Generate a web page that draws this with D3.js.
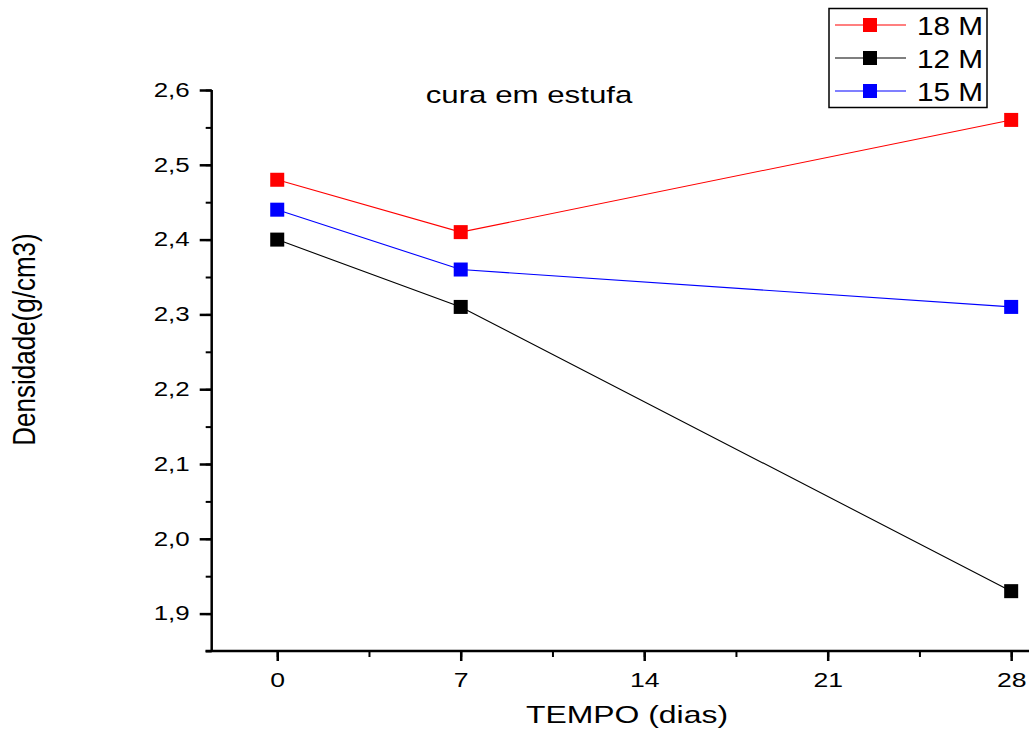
<!DOCTYPE html>
<html>
<head>
<meta charset="utf-8">
<script src="https://cdn.jsdelivr.net/npm/d3@7"></script>
<style>
  body { margin: 0; background: #fff; }
  svg { display: block; font-family: "Liberation Sans", Arial, sans-serif; }
</style>
</head>
<body>
<svg id="chart" width="1029" height="736"></svg>
<script>
// values
const days = [0, 7, 28]
const seriesNames = ['18 M', '12 M', '15 M']
const seriesColors = ['#ff0000', '#000000', '#0000ff']
const dens18 = [2.48, 2.41, 2.56]
const dens12 = [2.40, 2.31, 1.93]
const dens15 = [2.44, 2.36, 2.31]
const xTicks = [0, 7, 14, 21, 28]
const yTicks = [1.9, 2.0, 2.1, 2.2, 2.3, 2.4, 2.5, 2.6]

const svg = d3.select('#chart')

// the original picture is stretched sideways, so text gets a horizontal scale
const stretch = 1.33

const x = d3.scaleLinear().domain([-2.5, 28.68]).range([211.7, 1029])
const y = d3.scaleLinear().domain([1.85, 2.6]).range([651, 90])

const fmt = d => d.toFixed(1).replace('.', ',')

/// axes ////////
const gx = svg.append('g').attr('transform', `translate(0,${y(1.85)})`)
gx.call(d3.axisBottom(x).tickValues(d3.range(0, 28.1, 3.5)).tickSize(6).tickFormat(''))
gx.selectAll('.tick line').attr('stroke-width', 2)
gx.select('.domain').attr('d', `M205.5,0H1029`).attr('stroke-width', 2.5)
const gxMaj = svg.append('g').attr('transform', `translate(0,${y(1.85)})`)
gxMaj.call(d3.axisBottom(x).tickValues(xTicks).tickSize(10).tickPadding(12))
gxMaj.select('.domain').remove()
gxMaj.selectAll('.tick line').attr('stroke-width', 2.5)
gxMaj.selectAll('text')
    .attr('font-size', 20)
    .attr('fill', '#000')
    .attr('font-family', 'Liberation Sans, Arial, sans-serif')
    .attr('transform', `scale(${stretch},1)`)

const gy = svg.append('g').attr('transform', `translate(${x(-2.5)},0)`)
gy.call(d3.axisLeft(y).tickValues(d3.range(1.85, 2.601, 0.05)).tickSize(6).tickFormat(''))
gy.selectAll('.tick line').attr('stroke-width', 2)
gy.select('.domain').attr('d', `M0,${y(2.6)}V${y(1.85)}`).attr('stroke-width', 2.5)
const gyMaj = svg.append('g').attr('transform', `translate(${x(-2.5)},0)`)
gyMaj.call(d3.axisLeft(y).tickValues(yTicks).tickSize(12).tickPadding(10).tickFormat(fmt))
gyMaj.select('.domain').remove()
gyMaj.selectAll('.tick line').attr('stroke-width', 2.5)
gyMaj.selectAll('text')
    .attr('font-size', 19.5)
    .attr('fill', '#000')
    .attr('font-family', 'Liberation Sans, Arial, sans-serif')
    .attr('x', -22 / stretch)
    .attr('transform', `scale(${stretch},1)`)

/// titles ////////
svg.append('text')
    .attr('transform', `translate(529,103) scale(${stretch},1)`)
    .attr('text-anchor', 'middle')
    .attr('font-size', 23.5)
    .text('cura em estufa')
svg.append('text')
    .attr('transform', `translate(627,723) scale(${stretch},1)`)
    .attr('text-anchor', 'middle')
    .attr('font-size', 24)
    .text('TEMPO (dias)')
svg.append('text')
    .attr('transform', `translate(35,339.5) rotate(-90) scale(1,1.22)`)
    .attr('text-anchor', 'middle')
    .attr('font-size', 26)
    .text('Densidade(g/cm3)')

/// series ////////
const series = [dens18, dens12, dens15].map((vals, i) => ({
    name: seriesNames[i],
    color: seriesColors[i],
    points: vals.map((v, j) => ({ day: days[j], val: v }))
}))

const line = d3.line().x(d => x(d.day)).y(d => y(d.val))

const groups = svg.selectAll('g.series')
    .data(series)
    .join('g')
    .classed('series', true)

groups.append('path')
    .attr('d', d => line(d.points))
    .attr('fill', 'none')
    .attr('stroke', d => d.color)
    .attr('stroke-width', 1.1)

groups.selectAll('rect')
    .data(d => d.points.map(p => ({ ...p, color: d.color })))
    .join('rect')
    .attr('x', d => x(d.day) - 7)
    .attr('y', d => y(d.val) - 7)
    .attr('width', 14)
    .attr('height', 14)
    .attr('fill', d => d.color)

/// legend ////////
const legend = svg.append('g')
legend.append('rect').attr('x', 829).attr('y', 8.5).attr('width', 158).attr('height', 99)
    .attr('fill', '#fff').attr('stroke', '#000').attr('stroke-width', 1.5)
const rows = legend.selectAll('g.row')
    .data(series)
    .join('g')
    .attr('transform', (d, i) => `translate(0,${25 + i * 33})`)
rows.append('line').attr('x1', 835).attr('x2', 906).attr('stroke', d => d.color).attr('stroke-width', 1.2)
rows.append('rect').attr('x', 863).attr('y', -7).attr('width', 14).attr('height', 14).attr('fill', d => d.color)
rows.append('text')
    .attr('transform', `translate(917,10) scale(1.19,1)`)
    .attr('font-size', 25)
    .text(d => d.name)
</script>
</body>
</html>
